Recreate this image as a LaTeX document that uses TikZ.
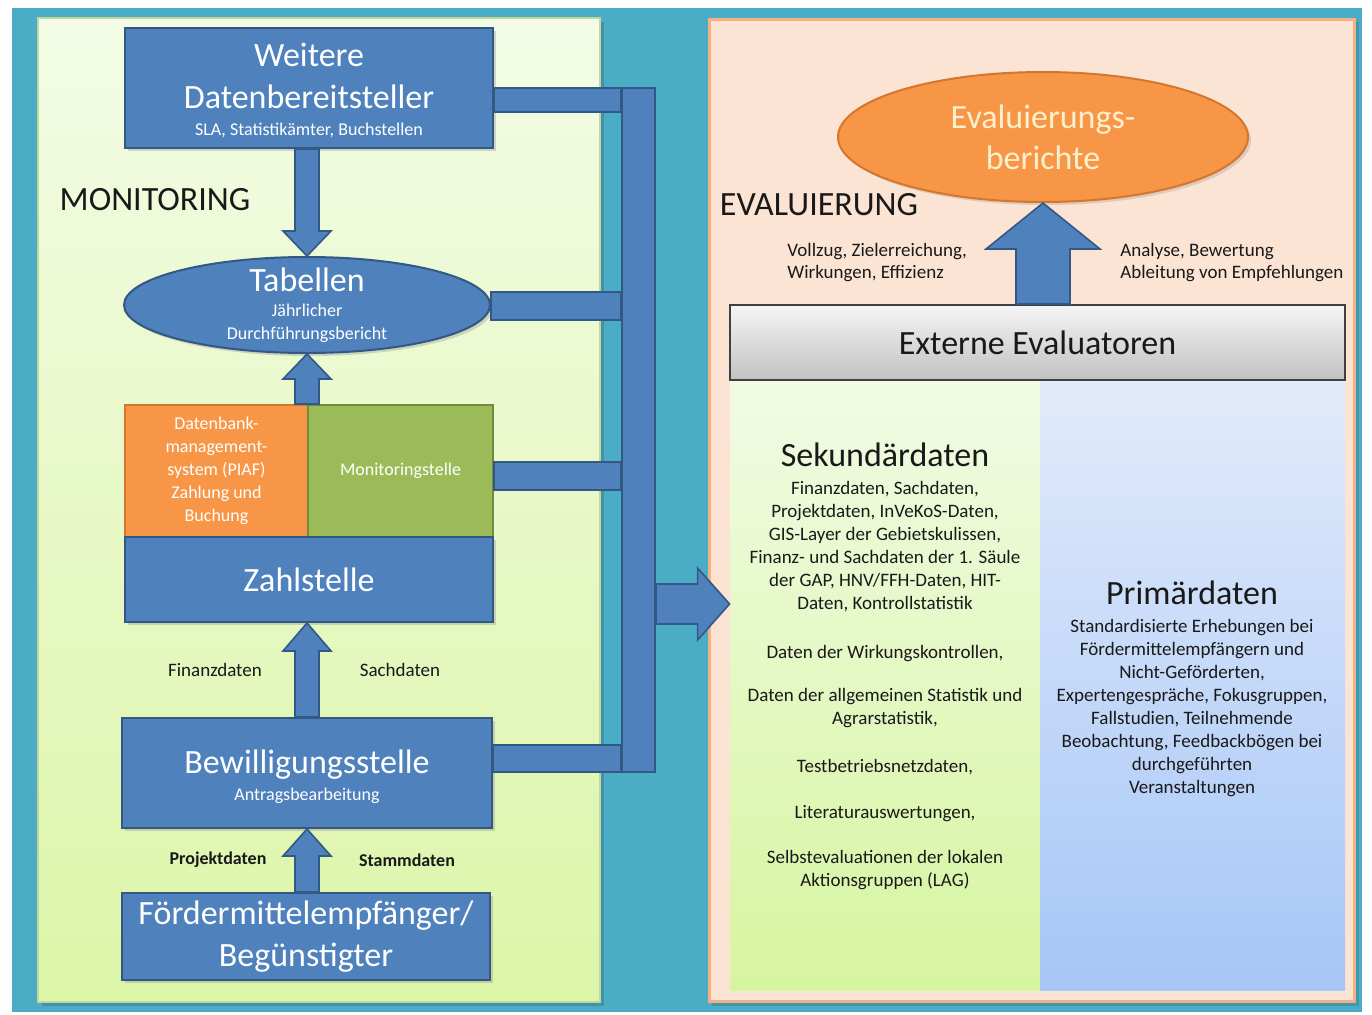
\documentclass[tikz,border=0pt]{standalone}
\usepackage{fontspec}
\setmainfont{Carlito}
\usetikzlibrary{calc,shapes.geometric,shadows}
\definecolor{frameC}{RGB}{75,172,198}
\definecolor{boxB}{RGB}{79,129,189}
\definecolor{boxBd}{RGB}{52,88,132}
\definecolor{orgC}{RGB}{247,150,70}
\definecolor{orgCd}{RGB}{214,118,44}
\definecolor{grnC}{RGB}{155,187,89}
\definecolor{grnCd}{RGB}{112,140,58}
\definecolor{lgTop}{RGB}{243,252,230}
\definecolor{lgBot}{RGB}{220,245,168}
\definecolor{peachC}{RGB}{252,228,212}
\definecolor{peachD}{RGB}{244,177,131}
\definecolor{sekTop}{RGB}{241,251,228}
\definecolor{sekBot}{RGB}{214,245,160}
\definecolor{priTop}{RGB}{226,235,250}
\definecolor{priBot}{RGB}{166,198,247}
\definecolor{evTxt}{RGB}{255,240,205}
\definecolor{txtD}{RGB}{25,25,25}
\tikzset{
  bluebox/.style={rectangle, fill=boxB, draw=boxBd, line width=1pt, text=white, align=center, inner sep=0pt,
    drop shadow={opacity=0.3, shadow xshift=1.5pt, shadow yshift=-1.5pt}},
  blk/.style={fill=boxB, draw=boxBd, line width=0.8pt, line join=miter},
  bigf/.style={font=\fontsize{17}{21}\selectfont},
  wtxt/.style={text=white, align=center, inner sep=0pt},
  smallw/.style={wtxt, font=\fontsize{9}{11.5}\selectfont},
  lbl/.style={font=\fontsize{9.5}{11}\selectfont, text=txtD, inner sep=0pt},
}
\begin{document}
\begin{tikzpicture}[x=0.5pt,y=-0.5pt]
\useasboundingbox (0,0) rectangle (1372,1014);
\fill[white] (0,0) rectangle (1372,1014);
\fill[frameC] (12,8) rectangle (1362,1012);
% left panel
\fill[black, opacity=0.15] (42,22) rectangle (604,1006);
\shade[top color=lgTop, bottom color=lgBot] (38,18) rectangle (600,1002);
\draw[grnC!60, line width=0.6pt] (38,18) rectangle (600,1002);
% right panel
\fill[black, opacity=0.12] (712,22) rectangle (1359,1006);
\fill[peachC] (708,18) rectangle (1355,1002);
\draw[peachD, line width=1.5pt] (709,19) rectangle (1354,1001);

% ---------- MONITORING side ----------
\node[lbl, font=\fontsize{17}{20}\selectfont] (mon) at (155,200) {MONITORING};

\node[bluebox, minimum width=184pt, minimum height=60pt] (wd) at (309,88) {};
\node[wtxt, bigf] (wdT) at (309,76) {Weitere\\Datenbereitsteller};
\node[smallw] (wdS) at (309,130) {SLA, Statistikämter, Buchstellen};

\node[ellipse, fill=boxB, draw=boxBd, line width=1pt, inner sep=0pt,
  minimum width=183pt, minimum height=48pt,
  drop shadow={opacity=0.3, shadow xshift=1.5pt, shadow yshift=-1.5pt}] (tab) at (307,305) {};
\node[wtxt, bigf] (tabT) at (307,280) {Tabellen};
\node[smallw] (tabS) at (307,323.5) {Jährlicher\\Durchführungsbericht};

\node[rectangle, fill=orgC, draw=orgCd, line width=1pt, text=white, align=center, inner sep=0pt,
  minimum width=91.5pt, minimum height=66pt, font=\fontsize{9}{11.5}\selectfont] (dbm) at (216.5,471) {Datenbank-\\management-\\system (PIAF)\\Zahlung und\\Buchung};
\node[rectangle, fill=grnC, draw=grnCd, line width=1pt, text=white, align=center, inner sep=0pt,
  minimum width=92.5pt, minimum height=66pt, font=\fontsize{9}{11.5}\selectfont] (mst) at (400.5,471) {Monitoringstelle};

\node[bluebox, minimum width=184pt, minimum height=42.5pt, bigf] (zs) at (309,579.5) {Zahlstelle};

\node[bluebox, minimum width=185pt, minimum height=55pt] (bew) at (307,773) {};
\node[wtxt, bigf] (bewT) at (307,765) {Bewilligungsstelle};
\node[smallw] (bewS) at (307,796) {Antragsbearbeitung};

\node[bluebox, minimum width=184pt, minimum height=43.5pt, bigf] (foe) at (306,936.5) {Fördermittelempfänger/\\Begünstigter};

\node[lbl] (fin) at (215,670) {Finanzdaten};
\node[lbl] (sac) at (400,670) {Sachdaten};
\node[lbl, font=\bfseries\fontsize{9}{11}\selectfont] (pro) at (218,860) {Projektdaten};
\node[lbl, font=\bfseries\fontsize{9}{11}\selectfont] (sta) at (407,860) {Stammdaten};

% block arrows
\filldraw[blk] ($(tab.north |- wd.south)+(-12,0)$) -- ($(tab.north)+(-12,-25)$) -- ($(tab.north)+(-24,-25)$)
  -- (tab.north) -- ($(tab.north)+(24,-25)$) -- ($(tab.north)+(12,-25)$) -- ($(tab.north |- wd.south)+(12,0)$) -- cycle;
\filldraw[blk] ($(tab.south |- dbm.north)+(-12,0)$) -- ($(tab.south)+(-12,25)$) -- ($(tab.south)+(-24,25)$)
  -- (tab.south) -- ($(tab.south)+(24,25)$) -- ($(tab.south)+(12,25)$) -- ($(tab.south |- dbm.north)+(12,0)$) -- cycle;
\filldraw[blk] ($(bew.north)+(-12,0)$) -- ($(bew.north |- zs.south)+(-12,28)$) -- ($(bew.north |- zs.south)+(-24,28)$)
  -- (bew.north |- zs.south) -- ($(bew.north |- zs.south)+(24,28)$) -- ($(bew.north |- zs.south)+(12,28)$) -- ($(bew.north)+(12,0)$) -- cycle;
\filldraw[blk] ($(bew.south |- foe.north)+(-12,0)$) -- ($(bew.south)+(-12,27)$) -- ($(bew.south)+(-24,27)$)
  -- (bew.south) -- ($(bew.south)+(24,27)$) -- ($(bew.south)+(12,27)$) -- ($(bew.south |- foe.north)+(12,0)$) -- cycle;

% bus
\node[rectangle, fill=boxB, draw=boxBd, line width=1pt, minimum width=16.5pt, minimum height=342pt, inner sep=0pt] (bus) at (638.5,430) {};
\filldraw[blk] (wd.east |- 0,88) rectangle (bus.west |- 0,112);
\filldraw[blk] (tab.east |- 0,292) rectangle (bus.west |- 0,320);
\filldraw[blk] (mst.east |- 0,462) rectangle (bus.west |- 0,490);
\filldraw[blk] (bew.east |- 0,745) rectangle (bus.west |- 0,772);

% ---------- EVALUIERUNG side ----------
\node[rectangle, top color=sekTop, bottom color=sekBot, minimum width=155pt, minimum height=305pt, inner sep=0pt] (sek) at (885,685) {};
\node[rectangle, top color=priTop, bottom color=priBot, minimum width=152.5pt, minimum height=305pt, inner sep=0pt] (pri) at (1192.5,685) {};

\node[rectangle, top color=white!96!black, bottom color=white!76!black, draw=black!75, line width=1pt,
  minimum width=307.5pt, minimum height=37.5pt, inner sep=0pt, font=\fontsize{17}{20}\selectfont, text=txtD] (ext) at (1037.5,342.5) {Externe Evaluatoren};

\node[ellipse, fill=orgC, draw=orgCd, line width=1pt, text=evTxt, align=center, inner sep=0pt,
  minimum width=205pt, minimum height=65pt, font=\fontsize{17}{20.5}\selectfont,
  drop shadow={opacity=0.25, shadow xshift=1.5pt, shadow yshift=-1.5pt}] (evb) at (1043,137) {Evaluierungs-\\berichte};

\node[lbl, font=\fontsize{17}{20}\selectfont] (evl) at (819,205) {EVALUIERUNG};

\filldraw[blk] ($(evb.south |- ext.north)+(-27,0)$) -- ($(evb.south)+(-27,46)$) -- ($(evb.south)+(-57,46)$)
  -- (evb.south) -- ($(evb.south)+(57,46)$) -- ($(evb.south)+(27,46)$) -- ($(evb.south |- ext.north)+(27,0)$) -- cycle;

\node[lbl, anchor=west, align=left, font=\fontsize{9.5}{11}\selectfont] (voll) at (787,263) {Vollzug, Zielerreichung,\\Wirkungen, Effizienz};
\node[lbl, anchor=west, align=left, font=\fontsize{9.5}{11}\selectfont] (anal) at (1120,263) {Analyse, Bewertung\\Ableitung von Empfehlungen};

% arrow from bus to Sekundärdaten
\coordinate (tipR) at (sek.west |- 0,604);
\filldraw[blk] ($(bus.east |- tipR)+(0,-20)$) -- ($(tipR)+(-32,-20)$) -- ($(tipR)+(-32,-36)$) -- (tipR)
  -- ($(tipR)+(-32,36)$) -- ($(tipR)+(-32,20)$) -- ($(bus.east |- tipR)+(0,20)$) -- cycle;

\node[lbl, font=\fontsize{17}{20}\selectfont] (sekT) at (885,455) {Sekundärdaten};
\node[lbl, anchor=north, align=center, font=\fontsize{9.5}{11.5}\selectfont] (sekB) at (885,481) {Finanzdaten, Sachdaten,\\
Projektdaten, InVeKoS-Daten,\\
GIS-Layer der Gebietskulissen,\\
Finanz- und Sachdaten der 1. Säule\\
der GAP, HNV/FFH-Daten, HIT-\\
Daten, Kontrollstatistik\\[13pt]
Daten der Wirkungskontrollen,\\[10pt]
Daten der allgemeinen Statistik und\\
Agrarstatistik,\\[12.5pt]
Testbetriebsnetzdaten,\\[11.5pt]
Literaturauswertungen,\\[11pt]
Selbstevaluationen der lokalen\\
Aktionsgruppen (LAG)};

\node[lbl, font=\fontsize{17}{20}\selectfont] (priT) at (1192,593) {Primärdaten};
\node[lbl, anchor=north, align=center, font=\fontsize{9.5}{11.5}\selectfont] (priB) at (1192,619) {Standardisierte Erhebungen bei\\
Fördermittelempfängern und\\
Nicht-Geförderten,\\
Expertengespräche, Fokusgruppen,\\
Fallstudien, Teilnehmende\\
Beobachtung, Feedbackbögen bei\\
durchgeführten\\
Veranstaltungen};
\end{tikzpicture}
\end{document}
